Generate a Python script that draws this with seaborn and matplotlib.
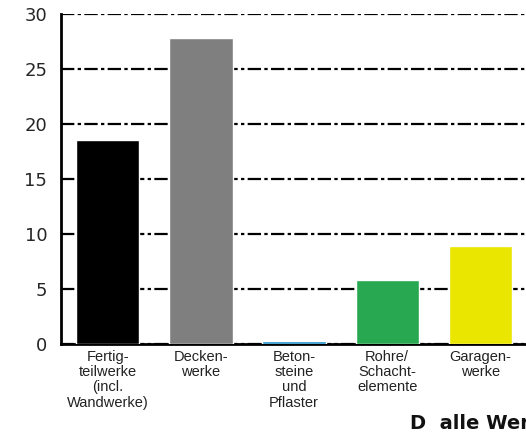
import matplotlib
matplotlib.use("Agg")
import matplotlib.pyplot as plt
import seaborn as sns
import pandas as pd
import numpy as np

# data
categories = [
    "Fertig-\nteilwerke\n(incl.\nWandwerke)",
    "Decken-\nwerke",
    "Beton-\nsteine\nund\nPflaster",
    "Rohre/\nSchacht-\nelemente",
    "Garagen-\nwerke",
]
values = [18.5, 27.8, 0.25, 5.8, 8.9]
colors = ["#000000", "#7f7f7f", "#1f8fc8", "#28a851", "#ebe600"]
y_ticks = [0, 5, 10, 15, 20, 25, 30]

sns.set_style("white")
plt.rcParams["font.family"] = ["DejaVu Sans"]

df = pd.DataFrame({"cat": categories, "val": values})

fig = plt.figure(figsize=(5.26, 4.32), dpi=100)
ax = fig.add_axes([0.116, 0.2037, 0.886, 0.7639])

sns.barplot(data=df, x="cat", y="val", hue="cat", palette=colors,
            legend=False, width=0.68, saturation=1, ax=ax, zorder=3)

ax.set_xlim(-0.5, 4.5)
ax.set_ylim(0, 30)
ax.set_yticks(y_ticks)
ax.set_yticklabels([str(t) for t in y_ticks], fontsize=13)
ax.yaxis.grid(True, color="black", linestyle=(0, (6, 1.5, 1.5, 1.5)), linewidth=1.6)
ax.set_axisbelow(True)

# category ticks sit on the boundaries between bars
ax.set_xticks(np.arange(len(categories)))
ax.set_xticklabels(categories, fontsize=10.5, linespacing=1.12,
                   family=["Liberation Sans", "DejaVu Sans"], color="#222222")
ax.tick_params(axis="x", which="major", length=0, pad=4)
ax.set_xticks(np.arange(len(categories) + 1) - 0.5, minor=True)
ax.tick_params(axis="x", which="minor", length=5, width=2, direction="out")
ax.tick_params(axis="y", length=8, width=2, direction="out", pad=2)

for side in ["top", "right"]:
    ax.spines[side].set_visible(False)
for side in ["left", "bottom"]:
    ax.spines[side].set_linewidth(2)
    ax.spines[side].set_color("black")

ax.set_xlabel("")
ax.set_ylabel("")

fig.text(0.78, 0.042, "D  alle Werke", fontsize=14, fontweight="bold",
         ha="left", va="top", color="#111111")

fig.savefig("out.png", dpi=100)
